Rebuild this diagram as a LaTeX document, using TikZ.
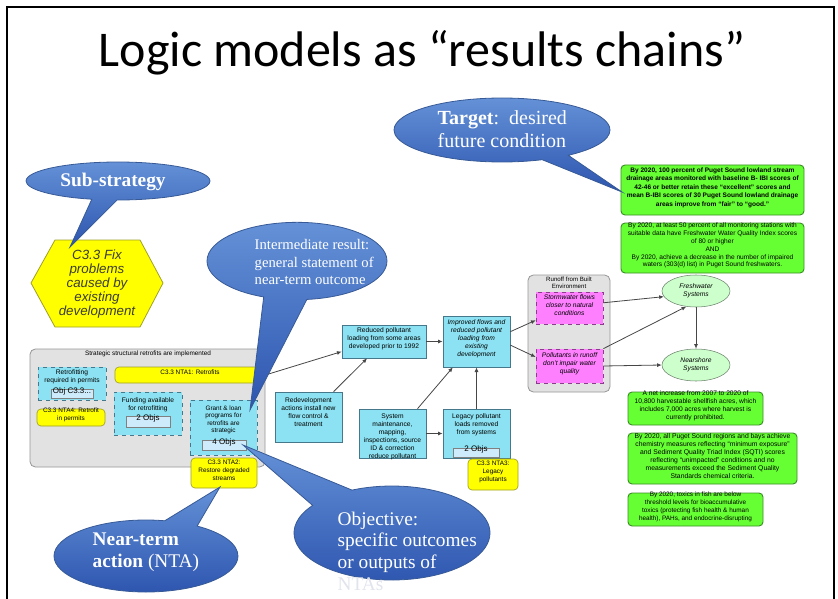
\documentclass[tikz,border=0pt]{standalone}
\usepackage{fontspec}
\setmainfont{Liberation Sans}
\newfontfamily\titlefont{Carlito}
\newfontfamily\callfont{Liberation Serif}
\usetikzlibrary{shapes.geometric,shapes.callouts,arrows.meta,fit,calc}
\definecolor{cyanfill}{RGB}{140,226,242}
\definecolor{cyanline}{RGB}{70,120,140}
\definecolor{objfill}{RGB}{205,235,250}
\definecolor{yelfill}{RGB}{255,255,0}
\definecolor{yelline}{RGB}{160,160,40}
\definecolor{grayfill}{RGB}{226,226,226}
\definecolor{grayline}{RGB}{150,150,150}
\definecolor{magfill}{RGB}{255,128,255}
\definecolor{magline}{RGB}{140,60,140}
\definecolor{ellfill}{RGB}{204,255,204}
\definecolor{ellline}{RGB}{110,130,110}
\definecolor{grnfill}{RGB}{102,255,51}
\definecolor{grnline}{RGB}{60,140,40}
\definecolor{callA}{RGB}{100,145,215}
\definecolor{callB}{RGB}{45,85,175}
\definecolor{callline}{RGB}{55,90,150}
\definecolor{arrowc}{RGB}{70,70,70}
\definecolor{hextext}{RGB}{60,60,50}
\definecolor{faint}{RGB}{225,228,236}
\tikzset{
  smalltxt/.style={font=\fontsize{5}{6}\selectfont},
  boxtxt/.style={font=\fontsize{5}{6}\selectfont, inner sep=0pt, align=center, anchor=north},
  cbox/.style={draw=cyanline, fill=cyanfill, line width=0.5pt, inner sep=0pt, align=center, smalltxt},
  cdash/.style={cbox, dashed},
  objbox/.style={draw=gray, fill=objfill, line width=0.5pt, inner sep=0pt, font=\fontsize{6}{7}\selectfont},
  ybox/.style={draw=yelline, fill=yelfill, rounded corners=3pt, line width=0.5pt, inner sep=0pt, align=center, font=\fontsize{4.8}{6}\selectfont},
  container/.style={draw=grayline, fill=grayfill, rounded corners=4pt, line width=0.6pt, inner sep=0pt},
  mbox/.style={draw=magline, fill=magfill, dashed, line width=0.5pt, inner sep=0pt, align=center, font=\fontsize{5}{6}\selectfont\itshape},
  gbox/.style={draw=grnline, fill=grnfill, rounded corners=3pt, line width=0.7pt, inner sep=0pt, align=center},
  sysell/.style={ellipse, draw=ellline, fill=ellfill, minimum width=51pt, minimum height=24pt, inner sep=0pt, align=center, font=\fontsize{5}{6}\selectfont\itshape},
  conn/.style={draw=arrowc, line width=0.6pt, -{Latex[length=3.5pt,width=3pt]}},
  bubble/.style={ellipse callout, draw=callline, line width=0.6pt, top color=callA, bottom color=callB, inner sep=0pt},
  calltext/.style={text=white, align=left, font=\callfont\fontsize{14.5}{16.3}\selectfont},
}
\begin{document}
\begin{tikzpicture}[x=0.75pt,y=-0.75pt]
\useasboundingbox (0,0) rectangle (838,599);
% slide frame
\draw[line width=0.8pt] (7,599) -- (7,7) -- (834,7) -- (834,599);
\node[font=\titlefont\fontsize{37.5}{40}\selectfont] (title) at (422,53) {Logic models as “results chains”};

% hexagon sub-strategy
\draw[draw=yelline, fill=yelfill, line width=0.6pt] (31,283) -- (55,240) -- (140,240) -- (163,283) -- (140,327) -- (55,327) -- cycle;
\node[align=center, text=hextext, font=\fontsize{10}{10.6}\selectfont\itshape] (hex) at (97,284) {C3.3 Fix\\problems\\caused by\\existing\\development};

% strategic container
\node[container, fit={(30,349) (265,467)}] (strat) {};
\node[font=\fontsize{4.8}{6}\selectfont] (stratlbl) at (148,354) {Strategic structural retrofits are implemented};

\node[cdash, fit={(38,367) (106,400)}] (retro) {};
\node[boxtxt] (retrotxt) at (72,369) {Retrofitting\\required in permits};
\node[objbox, fit={(51,389.5) (93,398.5)}] (retroobj) {Obj C3.3...};
\node[ybox, fit={(37,409) (105,426)}] (nta4) {C3.3 NTA4: Retrofit\\in permits};

\node[ybox, fit={(115,367) (265,383)}] (nta1) {C3.3 NTA1: Retrofits};

\node[cdash, fit={(114,392) (182,435)}] (fund) {};
\node[boxtxt] (fundtxt) at (148,397) {Funding available\\for retrofitting};
\node[objbox, fit={(126,416) (170,427)}] (fundobj) {2 Objs};

\node[cdash, fit={(190,400) (257,455)}] (grant) {};
\node[boxtxt, font=\fontsize{4.8}{5.3}\selectfont] (granttxt) at (223.5,406) {Grant \& loan\\programs for\\retrofits are\\strategic};
\node[objbox, fit={(202,440.5) (246,450.5)}] (grantobj) {4 Objs};

\node[ybox, fit={(191,458) (257,488)}] (nta2) {C3.3 NTA2:\\Restore degraded\\streams};

% middle chain
\node[cbox, fit={(342,325) (426,358)}] (reduced) {Reduced pollutant\\loading from some areas\\developed prior to 1992};
\node[cbox, fit={(443,316) (510,367)}, font=\fontsize{5}{6}\selectfont\itshape] (improved) {Improved flows and\\reduced pollutant\\loading from\\existing\\development};
\node[cbox, fit={(275,392) (342,442)}] (redev) {};
\node[boxtxt] (redevtxt) at (308.5,397) {Redevelopment\\actions install new\\flow control \&\\treatment};
\node[cbox, fit={(359,409) (426,458)}] (system) {};
\node[boxtxt] (systxt) at (392.5,413.5) {System\\maintenance,\\mapping,\\inspections, source\\ID \& correction\\reduce pollutant};
\node[cbox, fit={(443,409) (510,458)}] (legacy) {};
\node[boxtxt] (legtxt) at (476.5,413.5) {Legacy pollutant\\loads removed\\from systems};
\node[objbox, fit={(453,448) (499,457)}] (legobj) {2 Objs};
\node[ybox, fit={(468,459) (518,490)}] (nta3) {C3.3 NTA3:\\Legacy\\pollutants};

% runoff container
\node[container, fit={(528,275) (610,392)}] (runoff) {};
\node[boxtxt, font=\fontsize{4.6}{5.2}\selectfont] (runofftxt) at (569,277) {Runoff from Built\\Environment};
\node[mbox, fit={(536,292) (603,324)}] (storm) {Stormwater flows\\closer to natural\\conditions};
\node[mbox, fit={(536,349) (603,383)}] (poll) {Pollutants in runoff\\don't impair water\\quality};

% systems ellipses
\node[sysell] (fresh) at (696,291) {Freshwater\\Systems};
\node[sysell] (near) at (696,365) {Nearshore\\Systems};

% connectors
\draw[conn] (nta1.east) -- ($(reduced.south west)!0.2!(reduced.north west)$);
\draw[conn] ($(redev.north west)!0.87!(redev.north east)$) -- ($(reduced.south west)!0.3!(reduced.south east)$);
\draw[conn] (reduced.east) -- (improved.west);
\draw[conn] ($(system.north west)!0.87!(system.north east)$) -- ($(improved.south west)!0.15!(improved.south east)$);
\draw[conn] (system.east) -- (legacy.west);
\draw[conn] (legacy.north) -- (improved.south);
\draw[conn] ($(improved.north east)!0.31!(improved.south east)$) -- ($(storm.north west)!0.875!(storm.south west)$);
\draw[conn] ($(improved.north east)!0.57!(improved.south east)$) -- ($(poll.north west)!0.24!(poll.south west)$);
\draw[conn] ($(storm.north east)!0.34!(storm.south east)$) -- (fresh.190);
\draw[conn] (poll.north east) -- (fresh.238);
\draw[conn] (poll.east) -- (near.west);
\draw[conn] (fresh.south) -- (near.north);

% green target boxes
\node[gbox, fit={(621,165) (804,215)}, font=\fontsize{4.9}{6.4}\selectfont\bfseries] (g1) {By 2020, 100 percent of Puget Sound lowland stream\\drainage areas monitored with baseline B- IBI scores of\\42-46 or better retain these “excellent” scores and\\mean B-IBI scores of 30 Puget Sound lowland drainage\\areas improve from “fair” to “good.”};
\node[gbox, fit={(621,223) (804,273)}, font=\fontsize{4.95}{5.9}\selectfont] (g2) {By 2020, at least 50 percent of all monitoring stations with\\suitable data have Freshwater Water Quality Index scores\\of 80 or higher\\AND\\By 2020, achieve a decrease in the number of impaired\\waters (303(d) list) in Puget Sound freshwaters.};
\node[gbox, fit={(628,392) (763,425)}, font=\fontsize{5}{6}\selectfont] (g3) {A net increase from 2007 to 2020 of\\10,800 harvestable shellfish acres, which\\includes 7,000 acres where harvest is\\currently prohibited.};
\node[gbox, fit={(628,433) (797,484)}, font=\fontsize{5.1}{5.9}\selectfont] (g4) {By 2020, all Puget Sound regions and bays achieve\\chemistry measures reflecting “minimum exposure”\\and Sediment Quality Triad Index (SQTI) scores\\reflecting “unimpacted” conditions and no\\measurements exceed the Sediment Quality\\Standards chemical criteria.};
\node[gbox, fit={(628,493) (763,526)}, font=\fontsize{4.8}{6}\selectfont] (g5) {By 2020, toxics in fish are below\\threshold levels for bioaccumulative\\toxics (protecting fish health \& human\\health), PAHs, and endocrine-disrupting};

% callouts
\coordinate (subtip) at (70,247);
\coordinate (tartip) at (622,192);
\coordinate (inttip) at (250,410);
\coordinate (objtip) at (243,445);
\coordinate (ntatip) at (220,487);

\node[bubble, minimum width=138pt, minimum height=28.5pt, callout absolute pointer={(subtip)}, callout pointer arc=16] (subcall) at (118,181) {};
\node[calltext, font=\callfont\fontsize{14.5}{16.3}\selectfont\bfseries] (subtxt) at (113,182) {Sub-strategy};

\node[bubble, minimum width=162pt, minimum height=48pt, callout absolute pointer={(tartip)}, callout pointer arc=16] (tarcall) at (502,130) {};
\node[calltext, font=\callfont\fontsize{15}{17.5}\selectfont, anchor=west] (tartxt) at (433,129) {\textbf{Target}:\ \ desired\\future condition};

\node[bubble, minimum width=135pt, minimum height=58pt, callout absolute pointer={(inttip)}, callout pointer arc=28] (intcall) at (297,261) {};
\node[calltext, font=\callfont\fontsize{11}{13}\selectfont, anchor=west] (inttxt) at (250,262) {Intermediate result:\\general statement of\\near-term outcome};

\node[bubble, minimum width=147pt, minimum height=70.5pt, callout absolute pointer={(objtip)}, callout pointer arc=30] (objcall) at (392,533) {};
\node[calltext, anchor=north west] (objtxt) at (333,507) {Objective:\\specific outcomes\\or outputs of\\\textcolor{faint}{NTAs}};

\node[bubble, minimum width=138pt, minimum height=54pt, callout absolute pointer={(ntatip)}, callout pointer arc=22] (ntacall) at (146,556) {};
\node[calltext, anchor=west] (ntatxt) at (88,552) {\textbf{Near-term}\\\textbf{action} (NTA)};
\end{tikzpicture}
\end{document}
